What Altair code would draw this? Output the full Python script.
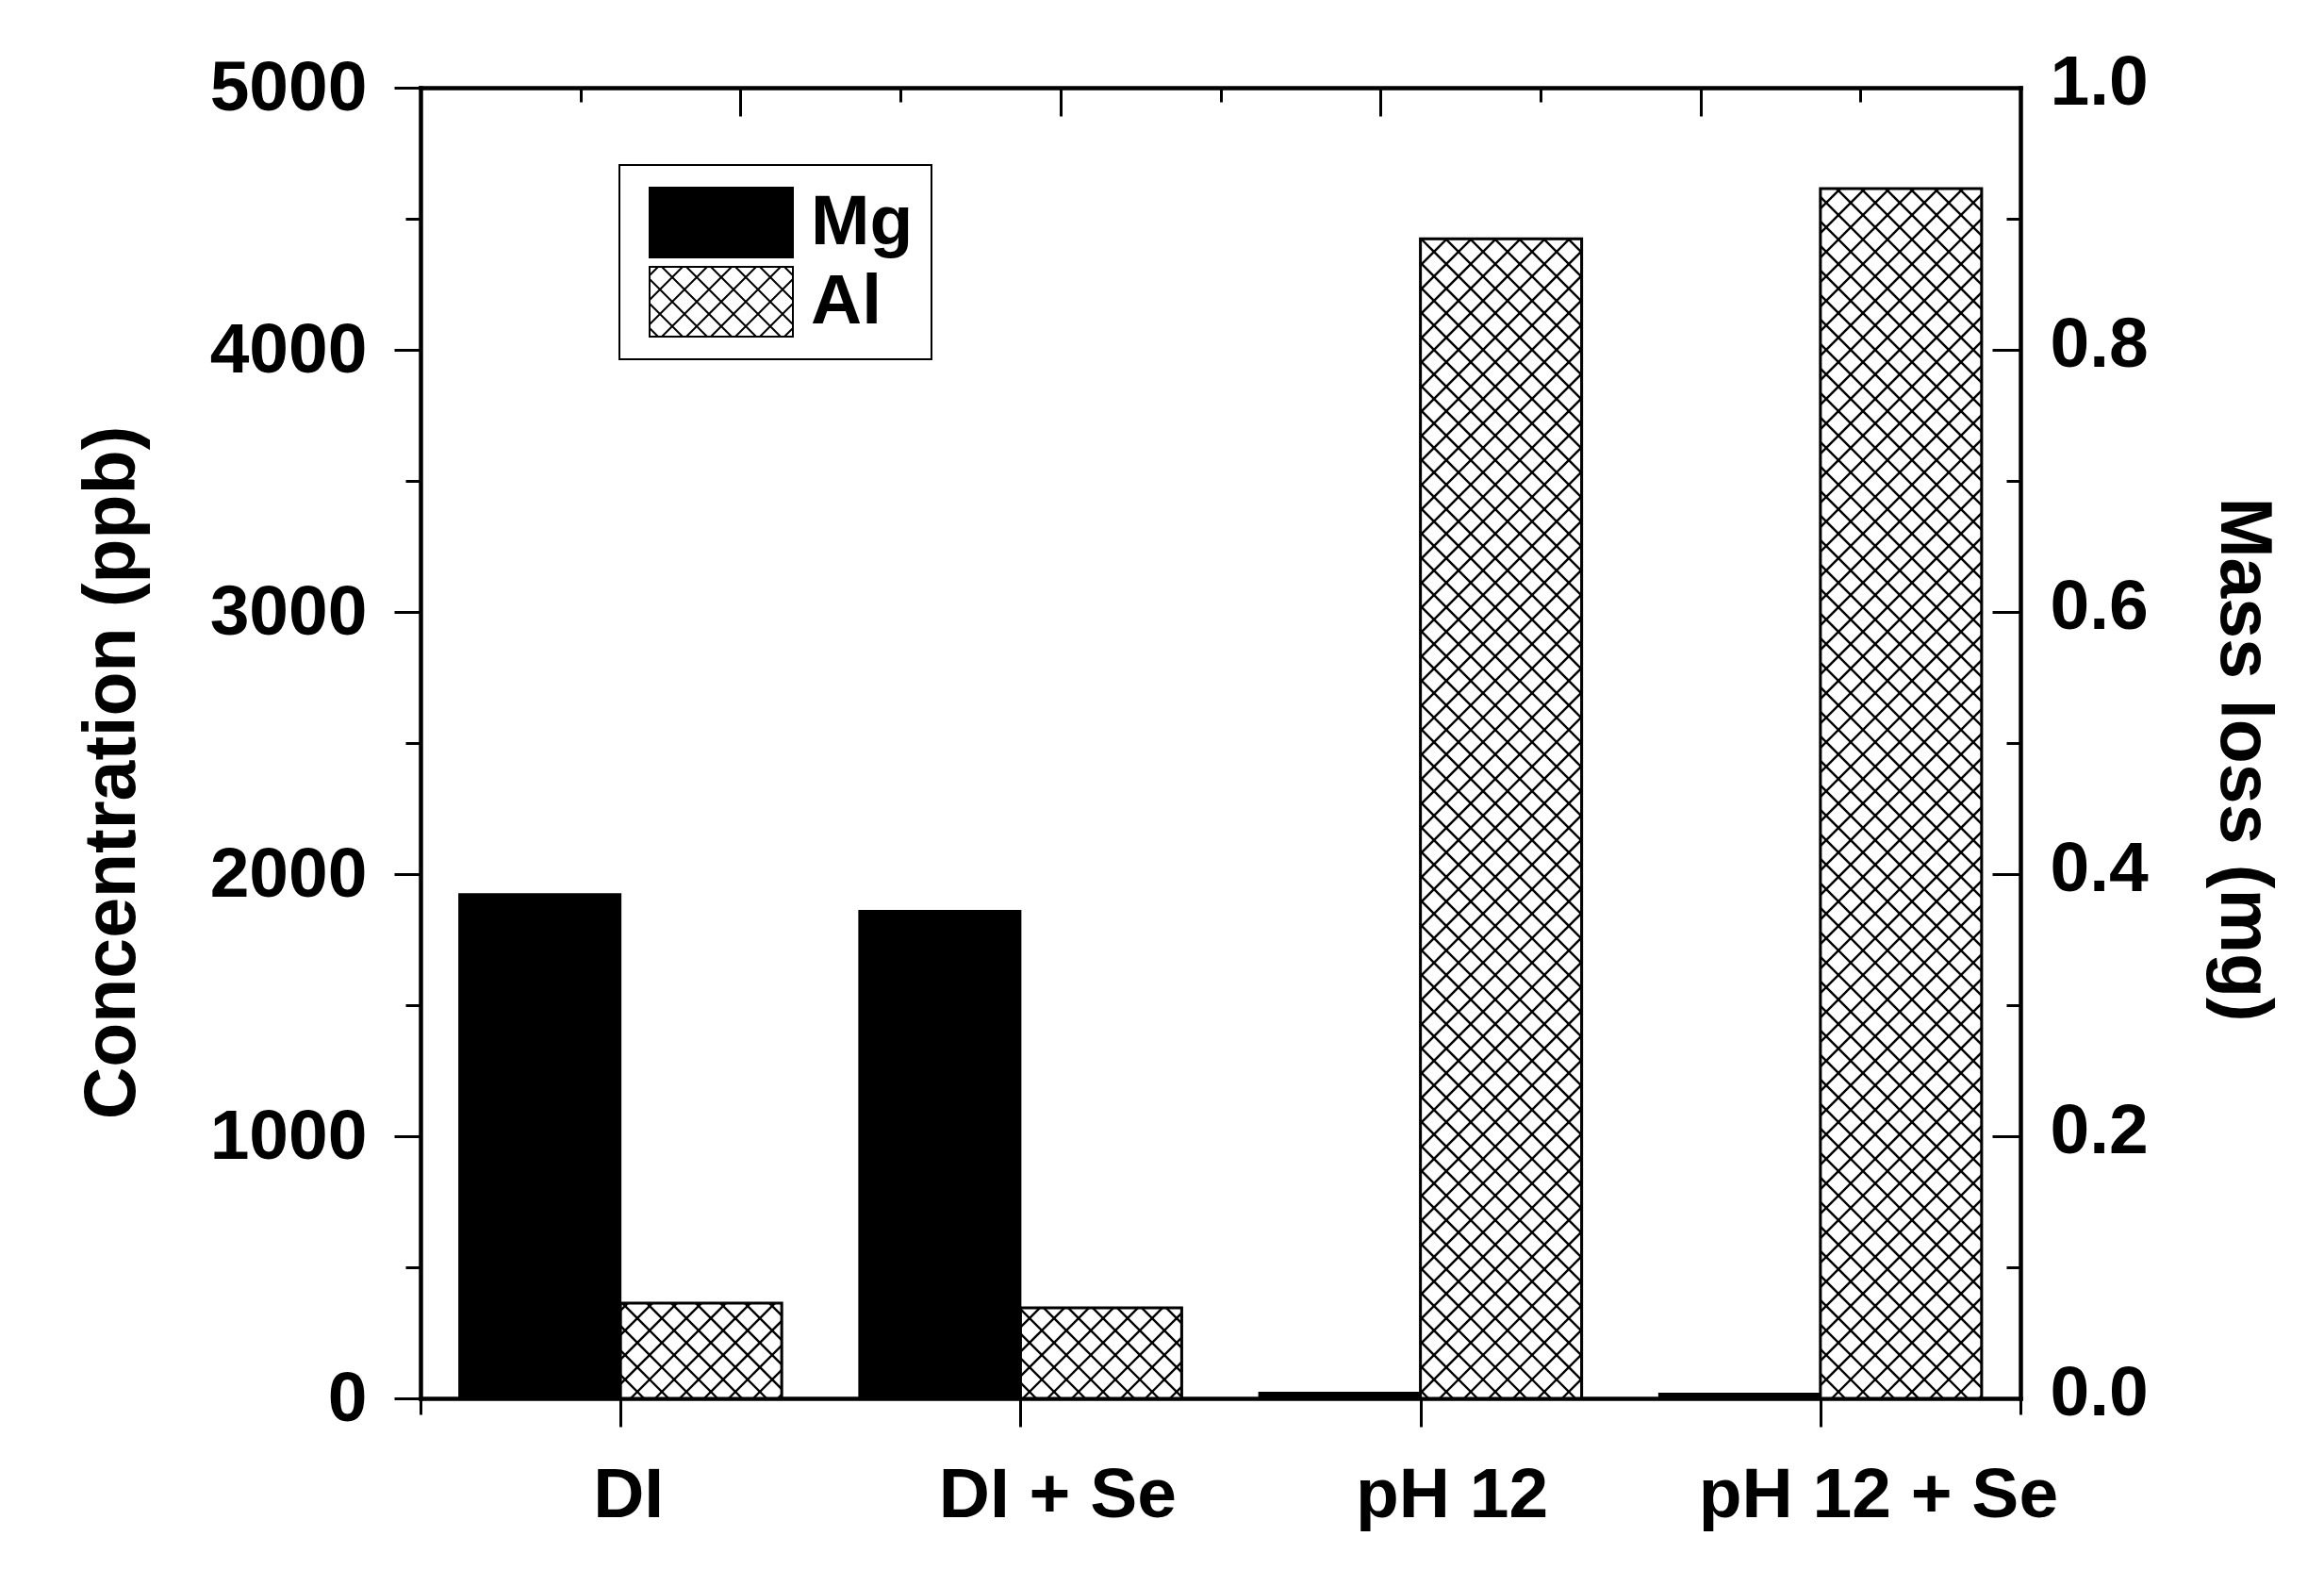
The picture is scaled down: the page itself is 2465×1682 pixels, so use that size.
import json
import numpy as np
import pandas as pd
import altair as alt

# ---------------- data ----------------
categories = ["DI", "DI + Se", "pH 12", "pH 12 + Se"]
elements = ["Mg", "Al"]
mg_ppb = [1924, 1860, 22, 18]
al_ppb = [363, 345, 4424, 4615]
ppb_ticks = [0, 1000, 2000, 3000, 4000, 5000]
mass_loss_labels = ["0.0", "0.2", "0.4", "0.6", "0.8", "1.0"]

# ---------------- layout / style constants ----------------
W, H = 1697, 1390
XMAX, YMAX = 4, 5000
KX, KY = W / XMAX, H / YMAX
BAR = 171 / KX            # bar width in x units
FONT = "Liberation Sans"
FS = 75
PERIOD = 26               # cross-hatch period (px)
LABEL_SHIFT = [8, 39, 33, 61]

rows = []
for i, c in enumerate(categories):
    mid = i + 0.5
    rows.append(dict(category=c, element="Mg", x0=mid - BAR, x1=mid, ppb=mg_ppb[i]))
    rows.append(dict(category=c, element="Al", x0=mid, x1=mid + BAR, ppb=al_ppb[i]))
bars = pd.DataFrame(rows)

# cross-hatch segments for the Al bars, clipped to each bar
segs = []
for _, r in bars[bars.element == "Al"].iterrows():
    X0, X1, T = r.x0 * KX, r.x1 * KX, r.ppb * KY
    for sgn, phase in ((1, 11), (-1, 3)):
        if sgn == 1:
            cmin, cmax = -X1, T - X0
        else:
            cmin, cmax = X0, T + X1
        n0 = int(np.floor((cmin - phase) / PERIOD))
        n1 = int(np.ceil((cmax - phase) / PERIOD))
        for n in range(n0, n1 + 1):
            c = phase + n * PERIOD
            if sgn == 1:
                lo, hi = max(X0, -c), min(X1, T - c)
            else:
                lo, hi = max(X0, c - T), min(X1, c)
            if hi - lo > 0.5:
                segs.append(dict(hx=lo / KX, hx2=hi / KX,
                                 hy=(sgn * lo + c) / KY, hy2=(sgn * hi + c) / KY))
hatch = pd.DataFrame(segs)

# legend swatch shapes (normalised -1..1 coordinates)
SW, SHT = 152, 74
hh = SHT / SW
rect = f"M-1,{-hh:.4f}H1V{hh:.4f}H-1Z"
u = PERIOD / (SW / 2)
hl = []
for sgn in (1, -1):
    for n in range(-12, 13):
        c = n * u
        if sgn == 1:
            lo, hi = max(-1, -hh - c), min(1, hh - c)
        else:
            lo, hi = max(-1, c - hh), min(1, c + hh)
        if hi - lo > 1e-3:
            hl.append(f"M{lo:.4f},{sgn * lo + c:.4f}L{hi:.4f},{sgn * hi + c:.4f}")
mg_path = rect
al_path = rect + "".join(hl)

# ---------------- scales ----------------
xs = alt.Scale(domain=[0, XMAX], nice=False, zero=False)
ys = alt.Scale(domain=[0, YMAX], nice=False)
fill_scale = alt.Scale(domain=elements, range=["black", "white"])
stroke_scale = alt.Scale(domain=elements, range=["black", "black"])
shape_scale = alt.Scale(domain=elements, range=[mg_path, al_path])

bottom_vals = [0] + [i + 0.5 for i in range(len(categories))] + [XMAX]
top_vals = [round(0.4 * k, 6) for k in range(11)]
half_vals = list(range(0, YMAX + 1, 500))

cat_expr = json.dumps(categories)
shift_expr = json.dumps(LABEL_SHIFT)
ml_expr = json.dumps(mass_loss_labels)

bar_layer = alt.Chart(bars).mark_bar(stroke="black", strokeWidth=2).encode(
    x=alt.X("x0:Q", scale=xs, axis=alt.Axis(
        orient="bottom", values=bottom_vals, title=None,
        tickSize=alt.ExprRef(expr="datum.value % 1 == 0 ? 17 : 30"),
        labelExpr=f"datum.value % 1 == 0 ? '' : {cat_expr}[floor(datum.value)]",
        labelOffset=alt.ExprRef(expr=f"datum.value % 1 == 0 ? 0 : {shift_expr}[floor(datum.value)]"),
        labelBaseline="alphabetic", labelPadding=95, domain=True)),
    x2="x1",
    y=alt.Y("ppb:Q", scale=ys, axis=alt.Axis(
        orient="left", values=half_vals, format="d",
        tickSize=alt.ExprRef(expr="datum.value % 1000 == 0 ? 28 : 16"),
        labelExpr="datum.value % 1000 == 0 ? datum.label : ''",
        labelPadding=29, labelAlign="right",
        title="Concentration (ppb)", titleAngle=270, titleX=-304, titleY=726,
        titleAlign="center", titleBaseline="alphabetic", domain=True)),
    y2=alt.datum(0),
    fill=alt.condition(alt.datum.element == "Mg", alt.value("black"), alt.value("white")),
)

hatch_layer = alt.Chart(hatch).mark_rule(color="black", strokeWidth=2.4).encode(
    x=alt.X("hx:Q", scale=xs, axis=alt.Axis(
        orient="bottom", offset=-H, values=top_vals, labels=False, title=None,
        tickSize=alt.ExprRef(expr="abs(datum.value / 0.8 - round(datum.value / 0.8)) < 0.01 ? 30 : 15"),
        domain=True)),
    x2="hx2",
    y=alt.Y("hy:Q", scale=ys, axis=alt.Axis(
        orient="right", values=ppb_ticks, ticks=False,
        labelExpr=f"{ml_expr}[round(datum.value / 1000)]",
        labelAlign="left", labelPadding=31, labelOffset=-6,
        title="Mass loss (mg)", titleAngle=90, titleX=212, titleY=712,
        titleAlign="center", titleBaseline="alphabetic", domain=True)),
    y2="hy2",
)

outline_layer = alt.Chart(bars).transform_filter(
    alt.datum.element == "Al"
).mark_bar(fillOpacity=0, stroke="black", strokeWidth=3).encode(
    x=alt.X("x0:Q", scale=xs, axis=None),
    x2="x1",
    y=alt.Y("ppb:Q", scale=ys, axis=alt.Axis(
        orient="left", offset=-W, values=half_vals, labels=False, domain=False, title=None,
        tickSize=alt.ExprRef(expr="datum.value % 1000 == 0 ? 30 : 15"))),
    y2=alt.datum(0),
)

legend_obj = alt.Legend(
    title=None, orient="none", legendX=211, legendY=82, padding=19,
    symbolSize=SW * SW, symbolStrokeWidth=2,
    symbolOffset=12, symbolOpacity=1, labelOffset=18, clipHeight=84, rowPadding=0,
    labelFont=FONT, labelFontSize=FS, labelFontWeight="bold", labelColor="black",
    labelLimit=1000, strokeColor="black", fillColor="white",
)

legend_layer = alt.Chart(bars).mark_point(
    filled=True, opacity=0, strokeWidth=2
).encode(
    x=alt.X("x0:Q", scale=xs, axis=None),
    y=alt.Y("ppb:Q", scale=ys, axis=None),
    fill=alt.Fill("element:N", scale=fill_scale, legend=legend_obj),
    stroke=alt.Stroke("element:N", scale=stroke_scale, legend=legend_obj),
    shape=alt.Shape("element:N", scale=shape_scale, legend=legend_obj),
)

chart = alt.layer(bar_layer, hatch_layer, outline_layer, legend_layer).resolve_axis(
    x="independent", y="independent"
).properties(
    width=W, height=H,
    autosize=alt.AutoSizeParams(type="none"),
    padding={"left": 438, "top": 85, "right": 300, "bottom": 180},
).configure_axis(
    labelFont=FONT, labelFontSize=FS, labelFontWeight="bold", labelColor="black",
    titleFont=FONT, titleFontSize=77, titleFontWeight="bold", titleColor="black",
    domainColor="black", domainWidth=4.5, domainCap="square",
    tickColor="black", tickWidth=3, grid=False, zindex=1,
    labelFlush=False, labelOverlap=False, labelLimit=1000,
).configure_legend(strokeWidth=2).configure_view(stroke=None)

chart.save("out.html", embed_options={"renderer": "svg", "actions": False})
